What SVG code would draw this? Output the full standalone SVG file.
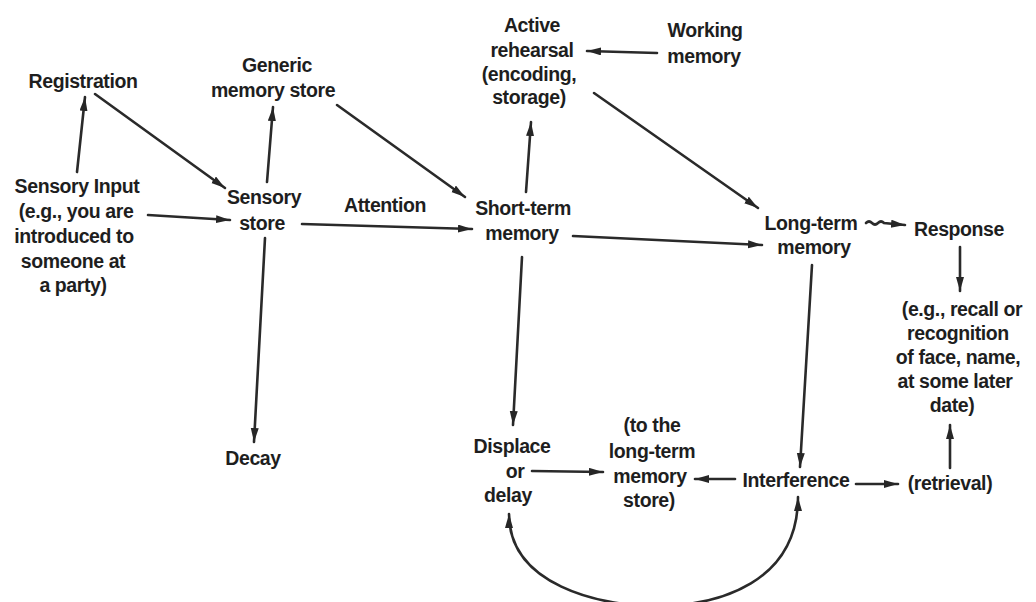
<svg xmlns="http://www.w3.org/2000/svg" width="1036" height="602" viewBox="0 0 1036 602">
<defs>
<marker id="ah" markerUnits="userSpaceOnUse" markerWidth="16" markerHeight="10" refX="14" refY="4" orient="auto-start-reverse">
<path d="M0,0 L14,4 L0,8 Z" fill="#262626"/>
</marker>
<style>
text{font-family:"Liberation Sans",Arial,sans-serif;font-weight:bold;font-size:19.5px;fill:#1e1e1e;text-anchor:middle;letter-spacing:-0.4px}
.c{fill:none;stroke:#2a2a2a;stroke-width:2.6;stroke-linecap:round;marker-end:url(#ah)}
.d{marker-start:url(#ah)}
</style>
</defs>
<rect width="1036" height="602" fill="#ffffff"/>
<g id="connectors">
<path class="c" d="M77,172 L85,97"/>
<path class="c" d="M95,94 L225,188"/>
<path class="c" d="M148,215 L230,220"/>
<path class="c" d="M267,182 L273,107"/>
<path class="c" d="M337,105 L465,197"/>
<path class="c" d="M302,224 L472,229"/>
<path class="c" d="M265,238 L254,442"/>
<path class="c" d="M526,192 L531,122"/>
<path class="c" d="M657,53 L587,51"/>
<path class="c" d="M594,93 L758,208"/>
<path class="c" d="M573,236 L762,245"/>
<path class="c" d="M866,223 q3,-3 6,0 t6,0 t6,0 L905,225"/>
<path class="c" d="M960,247 L960,291"/>
<path class="c" d="M522,257 L513,425"/>
<path class="c" d="M812,265 L800,467"/>
<path class="c" d="M532,471 L603,472"/>
<path class="c" d="M735,479 L695,479"/>
<path class="c" d="M856,484 L898,484"/>
<path class="c" d="M950,468 L950,425"/>
<path class="c d" d="M509,514 C509,585 600,606 655,606 C720,606 798,582 798,497"/>
</g>
<g id="registration"><text x="83" y="88">Registration</text></g>
<g id="generic-memory-store"><text x="277" y="72">Generic</text><text x="273" y="97">memory store</text></g>
<g id="active-rehearsal"><text x="532" y="32">Active</text><text x="532" y="57">rehearsal</text><text x="529" y="81">(encoding,</text><text x="529" y="104">storage)</text></g>
<g id="working-memory"><text x="705" y="37">Working</text><text x="704" y="63">memory</text></g>
<g id="sensory-input"><text x="77" y="193">Sensory Input</text><text x="76" y="218">(e.g., you are</text><text x="74" y="243">introduced to</text><text x="73" y="268">someone at</text><text x="73" y="292">a party)</text></g>
<g id="sensory-store"><text x="264" y="204">Sensory</text><text x="262" y="230">store</text></g>
<g id="attention"><text x="385" y="212">Attention</text></g>
<g id="short-term-memory"><text x="523" y="215">Short-term</text><text x="522" y="240">memory</text></g>
<g id="long-term-memory"><text x="811" y="230">Long-term</text><text x="814" y="254">memory</text></g>
<g id="response"><text x="959" y="236">Response</text></g>
<g id="recall"><text x="962" y="316">(e.g., recall or</text><text x="958" y="340">recognition</text><text x="958" y="364">of face, name,</text><text x="955" y="388">at some later</text><text x="952" y="412">date)</text></g>
<g id="decay"><text x="253" y="465">Decay</text></g>
<g id="displace"><text x="512" y="453">Displace</text><text x="515" y="478">or</text><text x="508" y="502">delay</text></g>
<g id="to-long-term-store"><text x="652" y="432">(to the</text><text x="652" y="458">long-term</text><text x="650" y="483">memory</text><text x="649" y="507">store)</text></g>
<g id="interference"><text x="796" y="487">Interference</text></g>
<g id="retrieval"><text x="950" y="490">(retrieval)</text></g>
</svg>
